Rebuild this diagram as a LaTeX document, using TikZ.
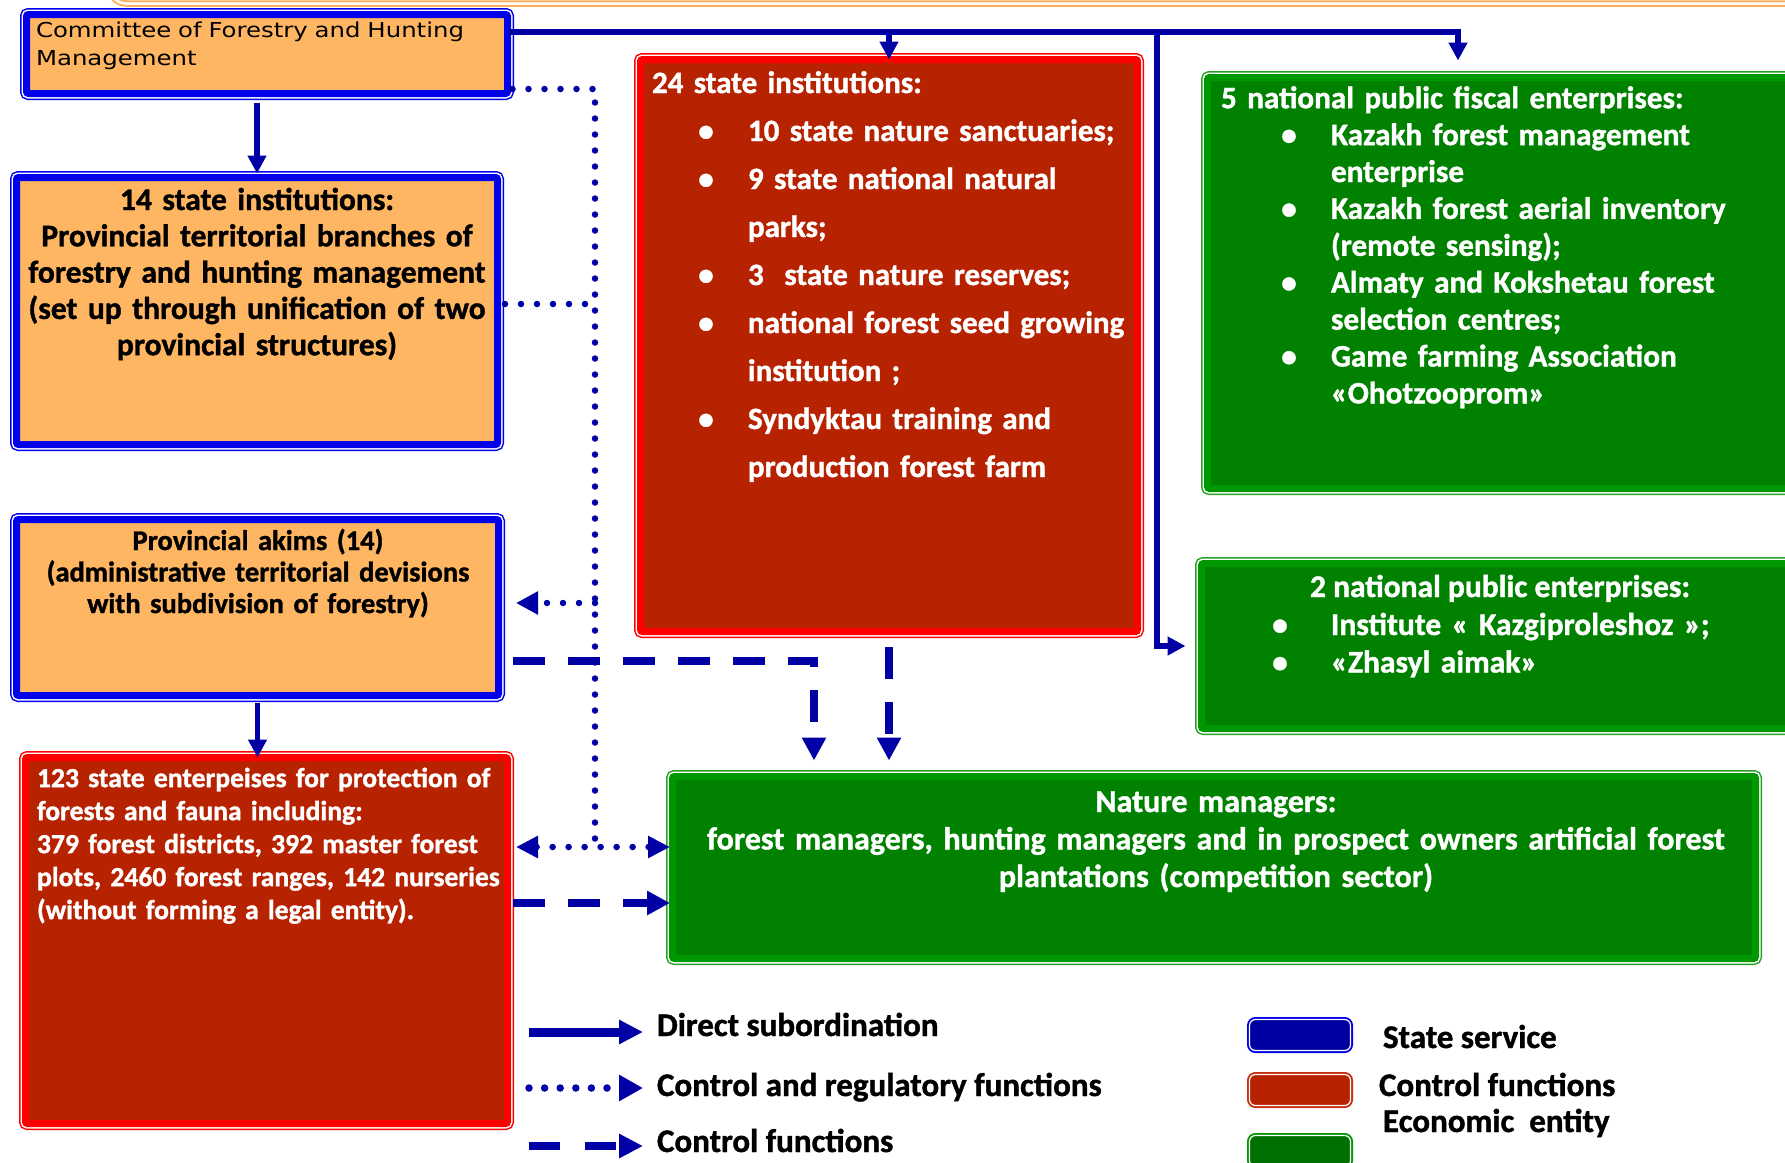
\documentclass[tikz,border=0pt]{standalone}
\usepackage{fontspec}
\setmainfont{Carlito}[BoldFeatures={FakeBold=1.2}]
\newfontfamily\comfont{DejaVu Sans}[FakeStretch=1.19]
\usetikzlibrary{arrows.meta}
\definecolor{orfill}{RGB}{255,182,98}
\definecolor{bandblue}{RGB}{0,0,235}
\definecolor{cblue}{RGB}{0,0,165}
\definecolor{redband}{RGB}{255,0,0}
\definecolor{redfill}{RGB}{183,34,0}
\definecolor{grfill}{RGB}{0,130,0}
\definecolor{grband}{RGB}{0,152,0}
\definecolor{grline}{RGB}{40,160,40}
\definecolor{decor}{RGB}{255,176,96}
\definecolor{swblue}{RGB}{0,0,160}
\definecolor{swblueo}{RGB}{0,0,235}
\definecolor{swred}{RGB}{183,34,0}
\definecolor{swredo}{RGB}{200,45,15}
\definecolor{swgreen}{RGB}{0,112,0}
\definecolor{swgreeno}{RGB}{0,150,0}
\newcommand\strutx{\rule{0pt}{1em}}
\newcommand\bul[2]{\makebox[#2pt][l]{\hspace*{#1pt}\makebox[0pt]{\textbullet}}}
\newcommand\ind[1]{\makebox[#1pt]{}}
\tikzset{
 boxbase/.style={outer sep=0pt, inner sep=0pt, anchor=north west, rounded corners=2pt},
 stbox/.style={boxbase, fill=orfill, draw=bandblue, line width=7pt,
   preaction={draw=bandblue, line width=13pt}, preaction={draw=white, line width=10pt}},
 rdbox/.style={boxbase, fill=redfill, draw=redband, line width=7pt,
   preaction={draw=redband, line width=13pt}, preaction={draw=white, line width=10pt}},
 grbox/.style={boxbase, fill=grfill, draw=grband, line width=7pt,
   preaction={draw=grline, line width=13pt}, preaction={draw=white, line width=10pt}},
 tx/.style={inner sep=0pt, outer sep=0pt},
 dir/.style={draw=cblue, line width=5.5pt},
 dirA/.style={dir, -{Triangle[length=18pt,width=18pt]}},
 reg/.style={draw=cblue, line width=6.5pt, line cap=round, dash pattern=on 0pt off 16pt},
 regA/.style={reg, -{Triangle[length=22pt,width=22pt]}},
 regAA/.style={reg, {Triangle[length=22pt,width=21pt]}-{Triangle[length=22pt,width=21pt]}},
 ctl/.style={draw=cblue, line width=8pt, dash pattern=on 32pt off 23pt},
 ctlA/.style={ctl, -{Triangle[length=23pt,width=23pt]}},
 lgdir/.style={draw=cblue, line width=9pt, -{Triangle[length=24pt,width=23pt]}},
 lgreg/.style={draw=cblue, line width=7.5pt, line cap=round, dash pattern=on 0pt off 15.6pt, -{Triangle[length=24pt,width=25pt]}},
 lgctl/.style={draw=cblue, line width=8pt, dash pattern=on 31pt off 25pt, -{Triangle[length=24pt,width=23pt]}},
 swatch/.style n args={2}{boxbase, minimum width=101pt, minimum height=31pt, rounded corners=6pt,
   fill=#1, draw=white, line width=1.2pt, preaction={draw=#2, line width=5pt}},
}
\begin{document}
\begin{tikzpicture}[x=1pt, y=-1pt, font=\bfseries]
\useasboundingbox (0,0) rectangle (1785,1162);
\clip (0,0) rectangle (1785,1162);
\fill[white] (0,0) rectangle (1785,1162);

% decorative frame at the top
\draw[draw=decor, line width=2pt, double=white, double distance=2.5pt, rounded corners=16pt]
  (110,-40) -- (110,3.5) -- (1800,3.5);

% boxes
\node[stbox, minimum width=481pt, minimum height=79pt] (com) at (26.5,14.5) {};
\node[stbox, minimum width=481pt, minimum height=267pt] (st14) at (16.5,177.5) {};
\node[stbox, minimum width=482pt, minimum height=176pt] (akims) at (16.5,519.5) {};
\node[rdbox, minimum width=482pt, minimum height=366pt] (s123) at (25.5,757.5) {};
\node[rdbox, minimum width=497pt, minimum height=572pt] (r24) at (640.5,59.5) {};
\node[grbox, minimum width=610pt, minimum height=411pt] (g5) at (1207.5,77.5) {};
\node[grbox, minimum width=610pt, minimum height=165pt] (g2) at (1201.5,563.5) {};
\node[grbox, minimum width=1083pt, minimum height=182pt] (nm) at (672.5,776.5) {};

% texts
\node[tx, anchor=north west, text width=600pt, align=left, text=black,
  font=\comfont\fontsize{20.5}{28}\selectfont] (comT) at (36,16.5)
  {\strutx Committee of Forestry and Hunting\\Management};
\node[tx, anchor=north, text width=600pt, align=center, text=black,
  font=\bfseries\fontsize{31.5}{36.3}\selectfont] (st14T) at (257,178.5)
  {\strutx 14 state institutions:\\Provincial territorial branches of\\forestry and hunting management\\(set up through unification of two\\provincial structures)};
\node[tx, anchor=north, text width=600pt, align=center, text=black,
  font=\bfseries\fontsize{28.5}{31.5}\selectfont] (akT) at (258,521.5)
  {\strutx Provincial akims (14)\\(administrative territorial devisions\\with subdivision of forestry)};
\node[tx, anchor=north west, text width=600pt, align=left, text=white,
  font=\bfseries\fontsize{27.6}{33}\selectfont] (s123T) at (37,759.5)
  {\strutx 123 state enterpeises for protection of\\forests and fauna including:\\379 forest districts, 392 master forest\\plots, 2460 forest ranges, 142 nurseries\\(without forming a legal entity).};
\node[tx, anchor=north west, text width=600pt, align=left, text=white,
  font=\bfseries\fontsize{31}{48}\selectfont] (r24T) at (652,62)
  {\strutx 24 state institutions:\\
   \bul{54}{96}10 state nature sanctuaries;\\
   \bul{54}{96}9 state national natural\\
   \ind{96}parks;\\
   \bul{54}{96}3~ state nature reserves;\\
   \bul{54}{96}national forest seed growing\\
   \ind{96}institution ;\\
   \bul{54}{96}Syndyktau training and\\
   \ind{96}production forest farm};
\node[tx, anchor=north west, text width=700pt, align=left, text=white,
  font=\bfseries\fontsize{31.2}{36.9}\selectfont] (g5T) at (1221,77)
  {\strutx 5 national public fiscal enterprises:\\
   \bul{68}{110}Kazakh forest management\\
   \ind{110}enterprise\\
   \bul{68}{110}Kazakh forest aerial inventory\\
   \ind{110}(remote sensing);\\
   \bul{68}{110}Almaty and Kokshetau forest\\
   \ind{110}selection centres;\\
   \bul{68}{110}Game farming Association\\
   \ind{110}«Ohotzooprom»};
\node[tx, anchor=base, text=white, font=\bfseries\fontsize{31.5}{37}\selectfont] (g2T) at (1500,597)
  {2 national public enterprises:};
\node[tx, anchor=north west, text width=600pt, align=left, text=white,
  font=\bfseries\fontsize{31.5}{37.5}\selectfont] (g2L) at (1221,603.5)
  {\strutx\bul{59}{110}Institute « Kazgiproleshoz »;\\
   \bul{59}{110}«Zhasyl aimak»};
\node[tx, anchor=north, text width=1100pt, align=center, text=white,
  font=\bfseries\fontsize{32}{37.5}\selectfont] (nmT) at (1216,780)
  {\strutx Nature managers:\\forest managers, hunting managers and in prospect owners artificial forest\\plantations (competition sector)};

% helper coordinates
\coordinate (busR) at (1458,32);
\coordinate (busM) at (1157,32);
\coordinate (trunkT) at (595,89);
\coordinate (trunkB) at (595,847);
\coordinate (dk) at (814,661);
\coordinate (pS) at ([shift={(7.5,-7)}]st14.east);
\coordinate (pA) at ([shift={(0,-4.5)}]akims.east);
\coordinate (pB) at ([shift={(0,-93.5)}]s123.east);
\coordinate (pC) at (akims.east |- dk);
\coordinate (pD) at ([shift={(0,-37.5)}]s123.east);

% direct subordination
\draw[dirA, shorten >=17pt] (com.east |- busR) -- (busR) -- (busR |- g5.north);
\draw[dirA] (r24.north |- busR) -- (r24.north);
\draw[dirA, shorten >=16pt] (busM) |- (g2.west);
\draw[dirA, shorten <=9pt, shorten >=4pt] (st14.north |- com.south) -- (st14.north);
\draw[dirA, shorten <=7.5pt] (akims.south) -- (akims.south |- s123.north);

% control and regulatory functions
\draw[reg] ([xshift=5pt]com.east |- trunkT) -- (trunkT) -- (trunkB);
\draw[reg] (pS) -- (pS -| trunkT);
\draw[regA, shorten >=17.5pt] (pA -| trunkT) -- (pA);
\draw[regAA, shorten <=8.5pt, shorten >=2.5pt] (pB) -- (pB -| nm.west);

% control functions
\draw[ctlA, shorten >=16pt] ([xshift=14.5pt]pC) -- (dk) -- (dk |- nm.north);
\draw[ctlA, shorten <=15.5pt, shorten >=16pt] (r24.south) -- (r24.south |- nm.north);
\draw[ctlA, shorten <=5.5pt, shorten >=2.5pt] (pD) -- (pD -| nm.west);

% legend
\coordinate (l1a) at (529,1032); \coordinate (l1b) at (643,1032);
\coordinate (l2a) at (529,1088); \coordinate (l2b) at (643,1088);
\coordinate (l3a) at (529,1146); \coordinate (l3b) at (643,1146);
\draw[lgdir] (l1a) -- (l1b);
\draw[lgreg] (l2a) -- (l2b);
\draw[lgctl] (l3a) -- (l3b);
\node[tx, anchor=base west, font=\bfseries\fontsize{33}{36}\selectfont] (lt1) at (657,1036) {Direct subordination};
\node[tx, anchor=base west, font=\bfseries\fontsize{33}{36}\selectfont] (lt2) at (657,1096) {Control and regulatory functions};
\node[tx, anchor=base west, font=\bfseries\fontsize{33}{36}\selectfont] (lt3) at (657,1152) {Control functions};

\node[swatch={swblue}{swblueo}] (sw1) at (1249.5,1019.5) {};
\node[swatch={swred}{swredo}] (sw2) at (1249.5,1074.5) {};
\node[swatch={swgreen}{swgreeno}] (sw3) at (1249.5,1135.5) {};
\node[tx, anchor=base west, font=\bfseries\fontsize{33}{36}\selectfont] (ls1) at (1383,1048) {State service};
\node[tx, anchor=base west, font=\bfseries\fontsize{33}{36}\selectfont] (ls2) at (1379,1096) {Control functions};
\node[tx, anchor=base west, font=\bfseries\fontsize{33}{36}\selectfont] (ls3) at (1383,1132) {Economic~ entity};
\end{tikzpicture}
\end{document}
